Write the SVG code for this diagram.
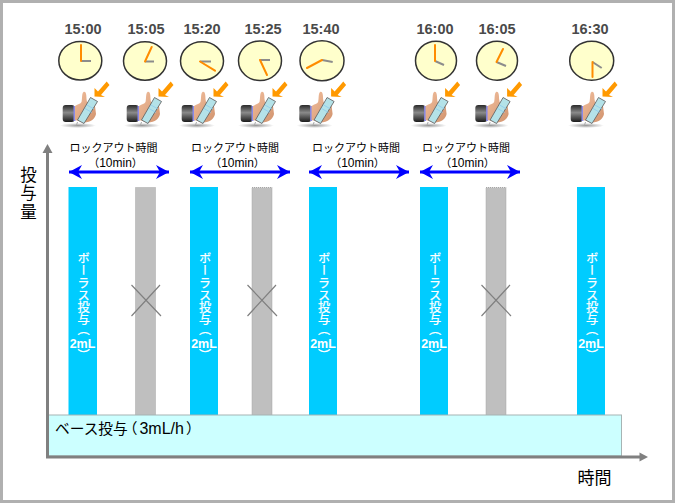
<svg xmlns="http://www.w3.org/2000/svg" width="677" height="504" viewBox="0 0 677 504">
<style>
text{font-family:"Liberation Sans","Noto Sans CJK JP",sans-serif}
.t{font-size:14.500px;font-weight:bold;fill:#4a4a4a;text-anchor:middle}
.f{fill:#ffffcc;stroke:#333;stroke-width:1.500}
.o{stroke:#ff8c00;stroke-width:2;fill:none;stroke-linecap:round}
.g{stroke:#8c8c8c;stroke-width:2;fill:none}
.l{font-size:11px;fill:#000;text-anchor:middle}
.l tspan{font-size:12px}
.b{fill:#00ccff}
.y{fill:#bfbfbf;stroke:#a6a6a6;stroke-width:1;stroke-dasharray:1 1}
.x{stroke:#808080;stroke-width:1.200;fill:none}
.v{font-size:12.200px;fill:#fff;stroke:#fff;stroke-width:.25;writing-mode:vertical-rl}
.h{font-size:12.500px;font-weight:bold;fill:#fff;text-anchor:middle}
.a{stroke:#808080;stroke-width:3;fill:none}
.d{stroke:#0000ff;stroke-width:3;fill:none;marker-start:url(#bl);marker-end:url(#br)}
</style>
<defs>
<marker id="bl" markerUnits="userSpaceOnUse" markerWidth="14" markerHeight="16" refX="0" refY="8" orient="auto"><path d="M0 8L13 1L9 8L13 15Z" fill="#0000ff"/></marker>
<marker id="br" markerUnits="userSpaceOnUse" markerWidth="14" markerHeight="16" refX="14" refY="8" orient="auto"><path d="M14 8L1 1L5 8L1 15Z" fill="#0000ff"/></marker>
<linearGradient id="cuff" x1="0" x2="0" y1="0" y2="1"><stop offset="0" stop-color="#2a2a2a"/><stop offset=".45" stop-color="#8a8a8a"/><stop offset="1" stop-color="#1c1c1c"/></linearGradient>
<linearGradient id="skin" x1="0" x2="1" y1="0" y2="1"><stop offset="0" stop-color="#f0bd9c"/><stop offset="1" stop-color="#d2946e"/></linearGradient>
<radialGradient id="sh"><stop offset="0" stop-color="#999"/><stop offset="1" stop-color="#999" stop-opacity="0"/></radialGradient>
<g id="hand">
<ellipse cx="78" cy="125.500" rx="18" ry="2.500" fill="url(#sh)"/>
<rect x="62.700" y="105" width="12" height="17" rx="3" fill="url(#cuff)"/>
<rect x="73.500" y="106" width="2" height="15" fill="#8a8ae8"/>
<path d="M75 106C78 104 80.500 104 81.500 102C82.500 98 81.500 94 83.500 92C86 91 86.500 95 86.500 99L87 102L95 106L96 114C95 119 91 122 84 122.500L75 120Z" fill="url(#skin)"/>
<path d="M77.500 120L90.500 97.500L97.500 101.500L84 123.500Z" fill="#b4e2e8" stroke="#666" stroke-width=".9"/>
<path d="M87 105L94 109M85 108.500L92 112.500" stroke="#8ccbee" stroke-width=".8" fill="none"/>
<path d="M77.500 122L76.500 125" stroke="#aaa" stroke-width="1"/>
<path d="M94.500 96.500L94.500 88L98 91.500L106.700 81.500L109.500 85L101 95L105 97Z" fill="#ff9900"/>
</g>
</defs>
<rect width="677" height="504" fill="#fff"/>
<rect x="1.500" y="1.500" width="672" height="500" fill="#fff" stroke="#b0b0b0" stroke-width="3"/>

<g id="clock-1500"><text class="t" x="83" y="34">15:00</text><ellipse class="f" cx="80.300" cy="60.700" rx="21.500" ry="19.300"/><path class="g" d="M81 61H91"/><path class="o" d="M81 61V45"/><use href="#hand"/></g>
<g id="clock-1505"><text class="t" x="146" y="34">15:05</text><ellipse class="f" cx="145" cy="61" rx="21.500" ry="19.300"/><path class="g" d="M145 61.500H154"/><path class="o" d="M145 61.500L151.700 47"/><use href="#hand" x="64"/></g>
<g id="clock-1520"><text class="t" x="202" y="34">15:20</text><ellipse class="f" cx="202" cy="61" rx="21.500" ry="19.300"/><path class="g" d="M200 61.500H211"/><path class="o" d="M200 61.500L215 70.700"/><use href="#hand" x="119"/></g>
<g id="clock-1525"><text class="t" x="263" y="34">15:25</text><ellipse class="f" cx="260" cy="60.700" rx="21.500" ry="19.800"/><path class="g" d="M260 60H270"/><path class="o" d="M260 60L267 75"/><use href="#hand" x="178"/></g>
<g id="clock-1540"><text class="t" x="321" y="34">15:40</text><ellipse class="f" cx="322" cy="60.700" rx="22" ry="20"/><path class="g" d="M322 60L332.700 62"/><path class="o" d="M322 60L307 68"/><use href="#hand" x="236.600"/></g>
<g id="clock-1600"><text class="t" x="435" y="34">16:00</text><ellipse class="f" cx="436" cy="60.700" rx="20.500" ry="19.500"/><path class="g" d="M435 61L444 65"/><path class="o" d="M435 61V45"/><use href="#hand" x="350.600"/></g>
<g id="clock-1605"><text class="t" x="497" y="34">16:05</text><ellipse class="f" cx="497" cy="60.700" rx="20.500" ry="19.500"/><path class="g" d="M496.500 62L506 66"/><path class="o" d="M496.500 62L503 49"/><use href="#hand" x="412.600"/></g>
<g id="clock-1630"><text class="t" x="590" y="34">16:30</text><ellipse class="f" cx="591.700" cy="60.700" rx="22" ry="19.500"/><path class="g" d="M592.500 62L601.700 68"/><path class="o" d="M592.500 62V77"/><use href="#hand" x="508"/></g>

<g id="bolus-1"><rect class="b" x="68.500" y="187" width="28.500" height="228"/><text class="v" x="82.500" y="252.500">ボーラス投与</text><text class="v" x="82.500" y="323">（</text><text class="h" x="82.500" y="347.500">2mL</text><text class="v" x="82.500" y="349.500">）</text></g>
<g id="bolus-2"><rect class="b" x="190" y="187" width="28" height="228"/><text class="v" x="204" y="252.500">ボーラス投与</text><text class="v" x="204" y="323">（</text><text class="h" x="204" y="347.500">2mL</text><text class="v" x="204" y="349.500">）</text></g>
<g id="bolus-3"><rect class="b" x="309" y="187" width="28" height="228"/><text class="v" x="323" y="252.500">ボーラス投与</text><text class="v" x="323" y="323">（</text><text class="h" x="323" y="347.500">2mL</text><text class="v" x="323" y="349.500">）</text></g>
<g id="bolus-4"><rect class="b" x="420" y="187" width="28" height="228"/><text class="v" x="434" y="252.500">ボーラス投与</text><text class="v" x="434" y="323">（</text><text class="h" x="434" y="347.500">2mL</text><text class="v" x="434" y="349.500">）</text></g>
<g id="bolus-5"><rect class="b" x="577" y="187" width="28" height="228"/><text class="v" x="591" y="252.500">ボーラス投与</text><text class="v" x="591" y="323">（</text><text class="h" x="591" y="347.500">2mL</text><text class="v" x="591" y="349.500">）</text></g>

<g id="blocked-1"><rect class="y" x="135.500" y="187.500" width="20" height="228"/><path class="x" d="M131.500 285L161 316M131.500 316L160 285"/></g>
<g id="blocked-2"><rect class="y" x="252" y="187.500" width="20" height="228"/><path class="x" d="M247.500 285L277 316M247.500 316L276 285"/></g>
<g id="blocked-3"><rect class="y" x="486" y="187.500" width="20" height="228"/><path class="x" d="M481.500 285L511 316M481.500 316L510 285"/></g>

<g id="base"><rect x="47.500" y="415" width="574" height="41" fill="#ccffff" stroke="#a6b4b4" stroke-width="1"/><text x="55" y="434" font-size="14.700" fill="#000">ベース投与<tspan dx="-5">（</tspan><tspan dx="2" font-size="16">3mL/h</tspan><tspan dx="2">）</tspan></text></g>

<g id="lockout-labels">
<text class="l" x="113.500" y="152">ロックアウト時間</text><text class="l" x="115.500" y="167">（<tspan>10min</tspan>）</text>
<text class="l" x="235" y="152">ロックアウト時間</text><text class="l" x="237.500" y="167">（<tspan>10min</tspan>）</text>
<text class="l" x="356" y="152">ロックアウト時間</text><text class="l" x="357.500" y="167">（<tspan>10min</tspan>）</text>
<text class="l" x="466" y="152">ロックアウト時間</text><text class="l" x="467.500" y="167">（<tspan>10min</tspan>）</text>
</g>

<g id="axis-labels">
<text x="27.500" y="166" font-size="16.500" letter-spacing="2" fill="#000" style="writing-mode:vertical-rl">投与量</text>
<text x="577.500" y="484" font-size="17" fill="#000">時間</text>
</g>

<g id="connectors">
<path class="a" d="M47.500 152V457H641"/>
<path d="M47.500 144L52.500 153H42.500Z" fill="#808080"/>
<path d="M648 457L639.500 452.500V461.500Z" fill="#808080"/>
<path class="d" d="M69 172H169"/>
<path class="d" d="M190 172H290"/>
<path class="d" d="M309 172H409"/>
<path class="d" d="M420 172H520"/>
</g>
</svg>
